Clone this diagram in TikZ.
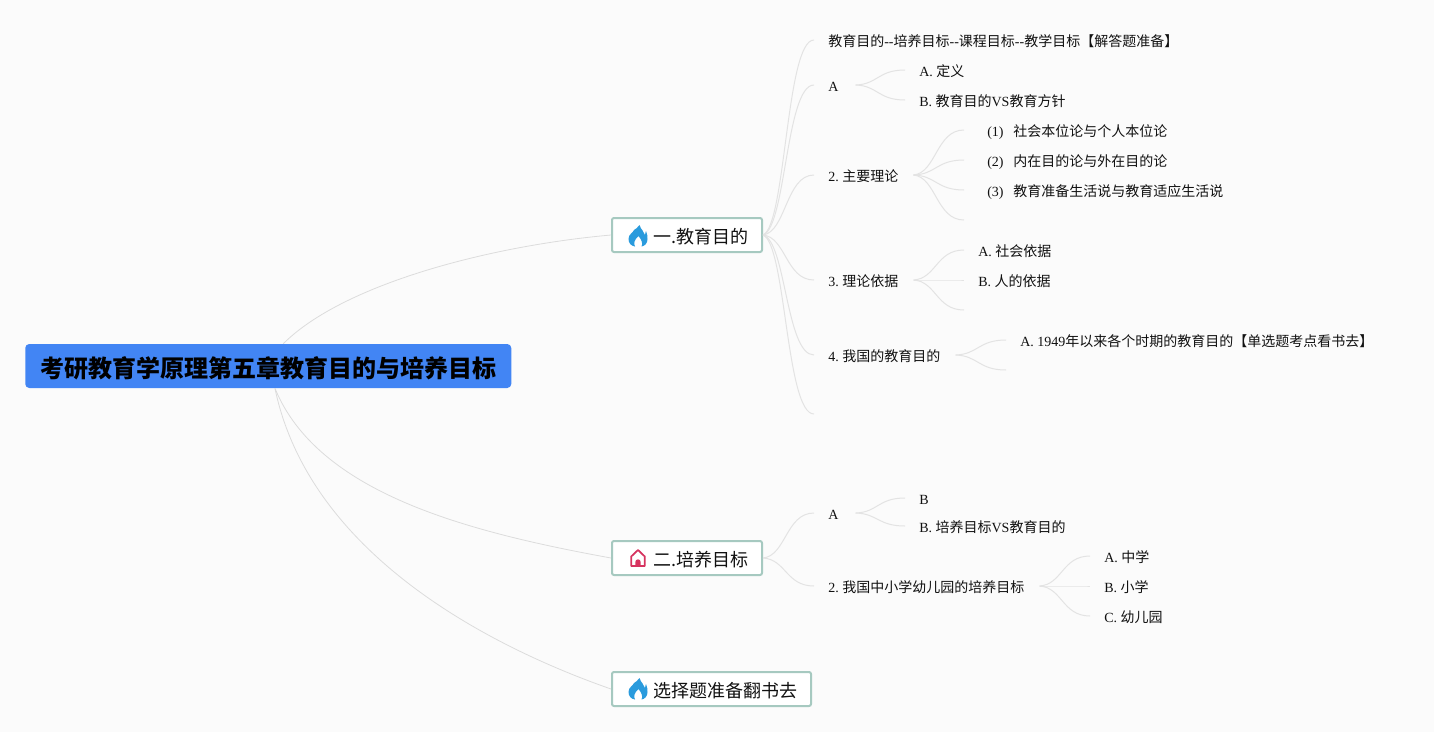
\documentclass[tikz,border=0pt]{standalone}
\usepackage{fontspec}
\setmainfont{Liberation Serif}
\newfontfamily\cjk{Noto Sans CJK SC}
\usetikzlibrary{calc}
\frenchspacing
\newcommand{\zh}[1]{{\cjk #1}}
\newcommand{\numbered}[2]{\hspace*{6.75pt}(#1)\hspace{7.3pt}\zh{#2}}
\definecolor{bgc}{HTML}{FBFBFB}
\definecolor{rootc}{HTML}{4285F4}
\definecolor{boxline}{HTML}{A6C9C0}
\definecolor{linkc}{HTML}{E3E3E3}
\definecolor{rootlink}{HTML}{DCDCDC}
\definecolor{inkc}{HTML}{111111}
\definecolor{flamec}{HTML}{2A9BDD}
\definecolor{housec}{HTML}{D6335F}
\tikzset{
  x=0.75pt,y=-0.75pt,
  link/.style={draw=linkc,line width=0.75pt},
  mainlink/.style={draw=rootlink,line width=0.6pt},
  leaf/.style={anchor=west,inner sep=0pt,text=inkc,text height=8pt,text depth=0pt,font=\fontsize{10.5pt}{12pt}\selectfont},
  topic/.style={anchor=west,draw=boxline,line width=1.5pt,fill=white,rounded corners=1.5pt,inner xsep=0pt,inner ysep=0pt,
    minimum height=25.5pt,text=inkc,text height=12.4pt,text depth=0pt,align=left,
    font=\cjk\fontsize{13.5pt}{16pt}\selectfont},
  rootbox/.style={anchor=west,fill=rootc,rounded corners=3pt,inner sep=0pt,minimum width=364.5pt,minimum height=33pt,
    text=black,text height=16.7pt,text depth=0pt,font=\cjk\bfseries\fontsize{18pt}{20pt}\selectfont},
  flame/.pic={
    \fill[flamec] (1.5,-11) .. controls (3,-6) and (6,-5) .. (7,-1) .. controls (7,-3) and (8,-4) .. (8,-5)
      .. controls (9.5,-2) and (9.5,1) .. (9.5,3) .. controls (9.5,7) and (7,10) .. (3.5,10.5)
      .. controls (5,8) and (4,4) .. (0.5,0) .. controls (-3,3) and (-5,7) .. (-3,10.5)
      .. controls (-7,10) and (-9.5,7) .. (-9.5,3) .. controls (-9.5,-2) and (-5,-3) .. (-4,-6)
      .. controls (-3,-7) and (0,-8) .. (1.5,-11) -- cycle;
  },
  house/.pic={
    \draw[housec,line width=1.3pt,line join=round] (-6.8,8) -- (-6.8,-1.5) -- (0,-8) -- (6.8,-1.5) -- (6.8,8) -- cycle;
    \fill[housec] (-2.7,8) -- (-2.7,4) arc[start angle=180,end angle=360,radius=2.7] -- (2.7,8) -- cycle;
  }
}
% start and end points of a connector, taken from named nodes
\newcommand{\fromb}[1]{([xshift=15*0.75pt,yshift=0.75pt]#1.east)}
\newcommand{\froma}[1]{([xshift=17*0.75pt,yshift=0.75pt]#1.east)}
\newcommand{\into}[1]{([xshift=-14*0.75pt,yshift=0.75pt]#1.west)}
\newcommand{\conn}[2]{\draw[link] let \p1=#1,\p2=#2 in
  (\p1) .. controls ({\x1+0.45*(\x2-\x1)},{\y1+0.05*(\y2-\y1)}) and ({\x1+0.45*(\x2-\x1)},{\y2}) .. (\p2);}
\begin{document}
\begin{tikzpicture}
\fill[bgc] (0,0) rectangle (1434,732);
\useasboundingbox (0,0) rectangle (1434,732);

% free ends of the empty branches
\coordinate (e1) at (814,414);
\coordinate (e2) at (964,220);
\coordinate (e3) at (964,310);
\coordinate (e4) at (1006,370);

\node[rootbox] (root) at (25,366) {考研教育学原理第五章教育目的与培养目标};

\node[topic,text width=112.5pt] (t1) at (611,235) {\hspace*{30.75pt}一.教育目的};
\node[topic,text width=112.5pt] (t2) at (611,558) {\hspace*{30.75pt}二.培养目标};
\node[topic,text width=149.25pt] (t3) at (611,689) {\hspace*{30.75pt}选择题准备翻书去};

\pic at (638,236) {flame};
\pic at (638,558) {house};
\pic at (638,689) {flame};

\node[leaf] (a0) at (828,41) {\zh{教育目的}-{}-\zh{培养目标}-{}-\zh{课程目标}-{}-\zh{教学目标【解答题准备】}};
\node[leaf] (a1) at (828,86) {A};
\node[leaf] (a11) at (919,71) {A. \zh{定义}};
\node[leaf] (a12) at (919,101) {B. \zh{教育目的}VS\zh{教育方针}};
\node[leaf] (a2) at (828,176) {2. \zh{主要理论}};
\node[leaf] (a21) at (978,131) {\numbered{1}{社会本位论与个人本位论}};
\node[leaf] (a22) at (978,161) {\numbered{2}{内在目的论与外在目的论}};
\node[leaf] (a23) at (978,191) {\numbered{3}{教育准备生活说与教育适应生活说}};
\node[leaf] (a3) at (828,281) {3. \zh{理论依据}};
\node[leaf] (a31) at (978,251) {A. \zh{社会依据}};
\node[leaf] (a32) at (978,281) {B. \zh{人的依据}};
\node[leaf] (a4) at (828,356) {4. \zh{我国的教育目的}};
\node[leaf] (a41) at (1020,341) {A. 1949\zh{年以来各个时期的教育目的【单选题考点看书去】}};

\node[leaf] (b1) at (828,514) {A};
\node[leaf] (b11) at (919,499) {B};
\node[leaf] (b12) at (919,527) {B. \zh{培养目标}VS\zh{教育目的}};
\node[leaf] (b2) at (828,587) {2. \zh{我国中小学幼儿园的培养目标}};
\node[leaf] (b21) at (1104,557) {A. \zh{中学}};
\node[leaf] (b22) at (1104,587) {B. \zh{小学}};
\node[leaf] (b23) at (1104,617) {C. \zh{幼儿园}};

% root to main topics
\draw[mainlink] ([xshift=11.25pt]root.north) .. controls +(45pt,45pt) and +(-90pt,-8pt) .. (t1.west);
\draw[mainlink] ([xshift=5pt]root.south) .. controls +(32pt,-78pt) and +(-110pt,20pt) .. (t2.west);
\draw[mainlink] ([xshift=5pt]root.south) .. controls +(25pt,-120pt) and +(-100pt,35pt) .. (t3.west);

% first topic
\conn{(t1.east)}{\into{a0}}
\conn{(t1.east)}{\into{a1}}
\conn{(t1.east)}{\into{a2}}
\conn{(t1.east)}{\into{a3}}
\conn{(t1.east)}{\into{a4}}
\conn{(t1.east)}{(e1)}
\conn{\froma{a1}}{\into{a11}}
\conn{\froma{a1}}{\into{a12}}
\conn{\fromb{a2}}{\into{a21}}
\conn{\fromb{a2}}{\into{a22}}
\conn{\fromb{a2}}{\into{a23}}
\conn{\fromb{a2}}{(e2)}
\conn{\fromb{a3}}{\into{a31}}
\conn{\fromb{a3}}{\into{a32}}
\conn{\fromb{a3}}{(e3)}
\conn{\fromb{a4}}{\into{a41}}
\conn{\fromb{a4}}{(e4)}

% second topic
\conn{(t2.east)}{\into{b1}}
\conn{(t2.east)}{\into{b2}}
\conn{\froma{b1}}{\into{b11}}
\conn{\froma{b1}}{\into{b12}}
\conn{\fromb{b2}}{\into{b21}}
\conn{\fromb{b2}}{\into{b22}}
\conn{\fromb{b2}}{\into{b23}}
\end{tikzpicture}
\end{document}
